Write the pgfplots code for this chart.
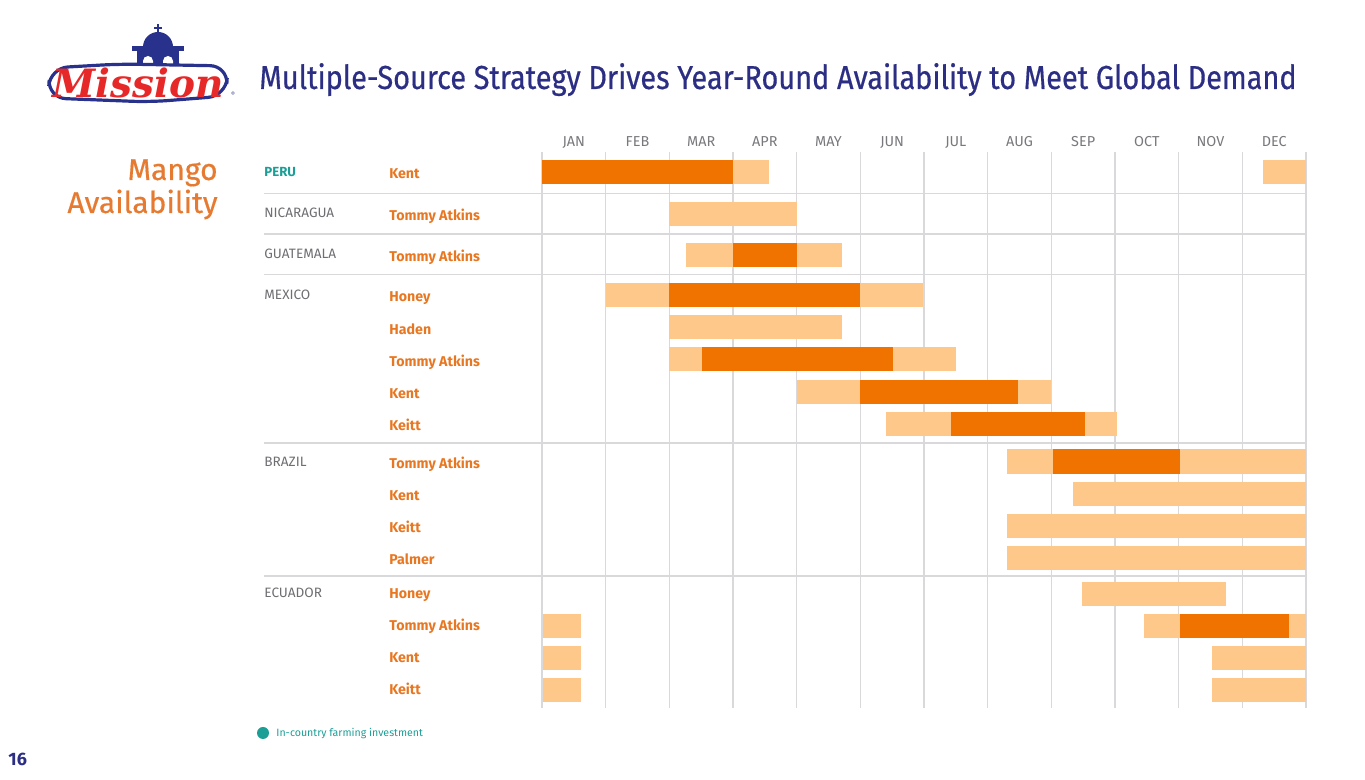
\documentclass[border=0pt]{standalone}
\usepackage{pgfplots}
\pgfplotsset{compat=1.18}
\usepackage{pgfplotstable}
\usepackage{fontspec}
\setmainfont{Fira Sans}
\newfontfamily\titlefont[FakeStretch=0.87, FakeBold=0.5]{Fira Sans}
\newfontfamily\medfont[FakeBold=0.5]{Fira Sans}
\newfontfamily\logofont{DejaVu Serif}

\definecolor{darkor}{RGB}{240,115,0}
\definecolor{lightor}{RGB}{254,200,138}
\definecolor{varor}{RGB}{232,119,34}
\definecolor{mangoor}{RGB}{229,122,48}
\definecolor{teal}{RGB}{26,158,150}
\definecolor{ctry}{RGB}{110,110,115}
\definecolor{monthgray}{RGB}{120,120,125}
\definecolor{gridgray}{RGB}{217,217,220}
\definecolor{navy}{RGB}{43,46,131}
\definecolor{logored}{RGB}{230,40,40}
\definecolor{logoblue}{RGB}{40,50,140}

% season segments: start month, end month, row position (px from top)
\pgfplotstableread{
a     b     y
3.00  3.56  172
11.33 12.00 172
2.00  4.00  214
2.26  3.00  255.5
4.00  4.71  255.5
1.00  2.00  295
5.00  5.98  295
2.00  4.71  327
2.00  2.51  359.5
5.51  6.50  359.5
4.00  5.00  392
7.47  8.00  392
5.41  6.42  424
8.53  9.03  424
7.30  8.02  461.5
10.02 12.00 461.5
8.34  12.00 493.5
7.31  12.00 525.5
7.30  12.00 558
8.48  10.74 593.5
0.02  0.61  625.5
9.45  10.02 625.5
11.74 12.00 625.5
0.02  0.61  657.5
10.53 12.00 657.5
0.02  0.61  689.5
10.53 12.00 689.5
}\lighttbl

\pgfplotstableread{
a     b     y
0.00  3.00  172
3.00  4.00  255.5
2.00  5.00  295
2.51  5.51  359.5
5.00  7.47  392
6.42  8.53  424
8.02  10.02 461.5
10.02 11.74 625.5
}\darktbl

\begin{document}
\begin{tikzpicture}
\begin{axis}[
    scale only axis,
    width=682.5pt, height=390pt,
    xmin=-8.5131, xmax=12.9267,
    ymin=0, ymax=780, y dir=reverse,
    hide axis, clip=false,
    segment/.style={draw=none, no markers,
        error bars/.cd, x dir=both, x explicit, error mark=none,
        error bar style={draw=#1, line width=12pt, line cap=butt}},
]
% grid
\foreach \m in {0,...,12}{
    \edef\temp{\noexpand\draw[gridgray, line width=0.7pt] (axis cs:\m,152) -- (axis cs:\m,708);}
    \temp
}
\foreach \yy in {193.5,234,274.5,443,576}{
    \edef\temp{\noexpand\draw[gridgray, line width=0.7pt] (axis cs:-4.3662,\yy) -- (axis cs:12,\yy);}
    \temp
}
\addplot[segment=lightor] table[
    x expr={(\thisrow{a}+\thisrow{b})/2}, y=y,
    x error expr={(\thisrow{b}-\thisrow{a})/2}] {\lighttbl};
\addplot[segment=darkor] table[
    x expr={(\thisrow{a}+\thisrow{b})/2}, y=y,
    x error expr={(\thisrow{b}-\thisrow{a})/2}] {\darktbl};
\end{axis}

\begin{scope}[shift={(0pt,390pt)}, x=0.5pt, y=-0.5pt]
% month labels
\foreach \mo [count=\i from 0] in {JAN,FEB,MAR,APR,MAY,JUN,JUL,AUG,SEP,OCT,NOV,DEC}{
    \node[anchor=base, inner sep=0pt, monthgray, font=\fontsize{7.2}{8}\selectfont] at ({542+(\i+0.5)*63.667},147) {\mo};
}
% country labels
\tikzset{ctrylab/.style={anchor=base west, inner sep=0pt, font=\fontsize{6.8}{7}\selectfont},
         varlab/.style={anchor=base west, inner sep=0pt, varor, font=\fontsize{7.1}{8}\bfseries}}
\node[ctrylab, teal, font=\fontsize{6.6}{7}\bfseries] at (264,177) {PERU};
\node[ctrylab, ctry] at (264,218) {NICARAGUA};
\node[ctrylab, ctry] at (264,259) {GUATEMALA};
\node[ctrylab, ctry] at (264,300) {MEXICO};
\node[ctrylab, ctry] at (264,467) {BRAZIL};
\node[ctrylab, ctry] at (264,598) {ECUADOR};
% variety labels
\foreach \yy/\lab in {179/Kent, 220.5/Tommy Atkins, 261.5/Tommy Atkins,
    302/Honey, 334.5/Haden, 366.5/Tommy Atkins, 399/Kent, 431/Keitt,
    469/Tommy Atkins, 501/Kent, 533/Keitt, 565/Palmer,
    598.5/Honey, 630.5/Tommy Atkins, 662.5/Kent, 694.5/Keitt}{
    \node[varlab] at (389,\yy) {\lab};
}
% title
\node[anchor=base west, inner sep=0pt, navy, font=\titlefont\fontsize{16.6}{18}\selectfont] at (259,89) {Multiple-Source Strategy Drives Year-Round Availability to Meet Global Demand};
% side heading
\node[anchor=base east, inner sep=0pt, mangoor, font=\medfont\fontsize{15}{17}\selectfont] at (218,180) {Mango};
\node[anchor=base east, inner sep=0pt, mangoor, font=\medfont\fontsize{15}{17}\selectfont] at (218,213) {Availability};
% legend
\fill[teal] (263,733) circle (6);
\node[anchor=base west, inner sep=0pt, teal, font=\fontsize{5.3}{6}\selectfont] at (276,737) {In-country farming investment};
% page number
\node[anchor=base west, inner sep=0pt, navy, font=\fontsize{9}{10}\bfseries] at (8,766) {16};
% logo: bell tower
\draw[logoblue, line width=1.2pt] (158,24) -- (158,34) (154,28) -- (162,28);
\fill[logoblue] (143,47) arc (180:360:15) -- cycle;
\fill[logoblue] (132,46) rectangle (184,51);
\fill[logoblue] (137,51) rectangle (179,74);
\fill[white] (143,72) -- (143,61) arc (180:360:5) -- (153,72) -- cycle;
\fill[white] (163,72) -- (163,61) arc (180:360:5) -- (173,72) -- cycle;
% logo: word mark
\filldraw[fill=white, draw=logoblue, line width=1.6pt, rounded corners=9]
    (50,68) -- (120,64) -- (228,66) -- (226,96) -- (150,102) -- (48,98) -- cycle;
\node[logored, font=\logofont\fontsize{19.5}{22}\bfseries\itshape, inner sep=0pt] at (138,83) {Mission};
\node[logoblue, font=\fontsize{3}{3}\selectfont, inner sep=0pt] at (233,94) {\textregistered};
\end{scope}
\pgfresetboundingbox
\path (0,0) rectangle (682.5pt,390pt);
\end{tikzpicture}
\end{document}
